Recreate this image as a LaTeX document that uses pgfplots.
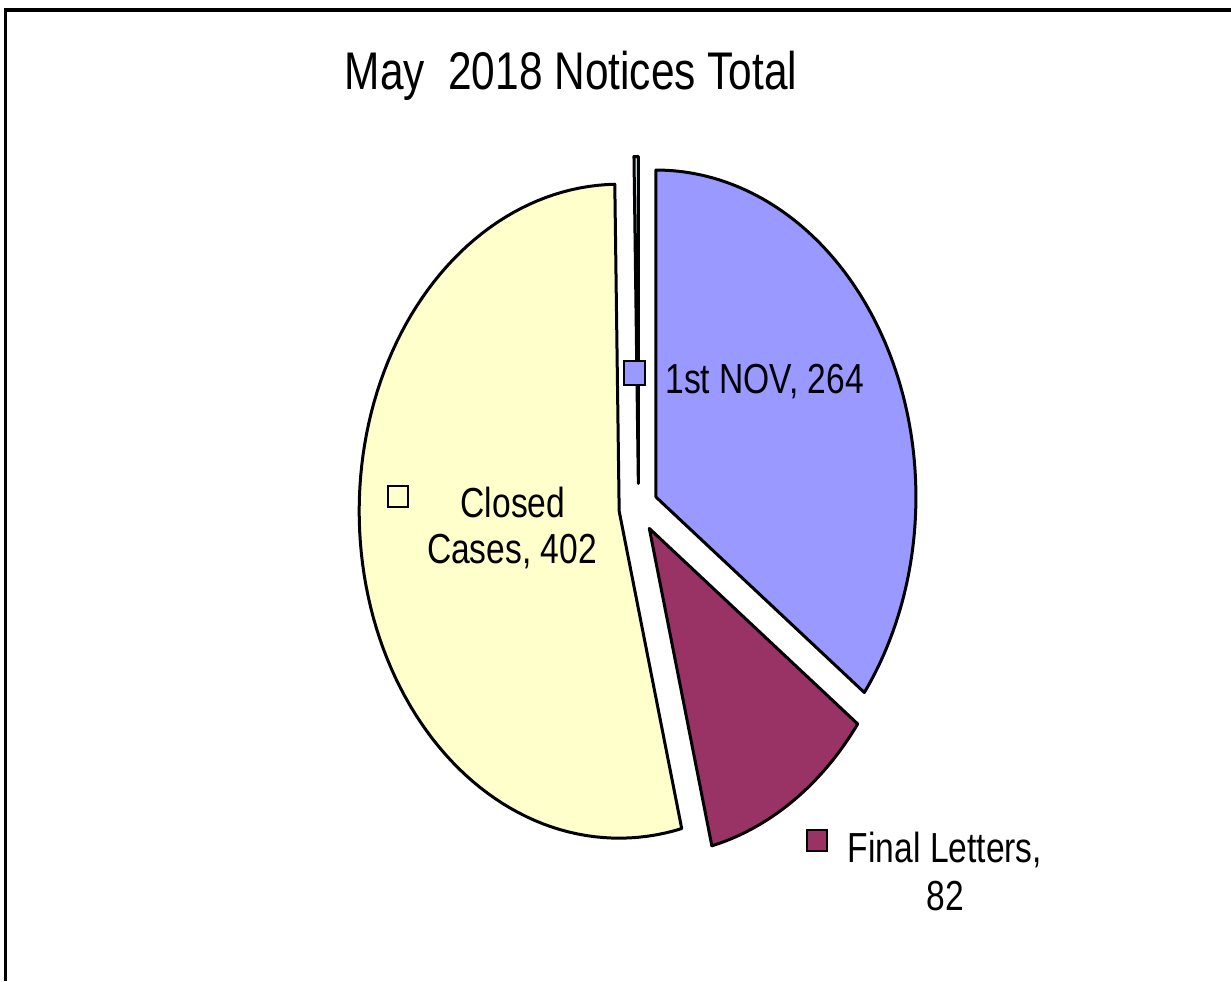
\documentclass[border=0pt]{standalone}
\usepackage{pgfplots}
\pgfplotsset{compat=1.18}
\usepackage{fontspec}
\setmainfont{Liberation Sans}[FakeStretch=0.8]
\definecolor{cNov}{HTML}{9999FF}
\definecolor{cFinal}{HTML}{993366}
\definecolor{cClosed}{HTML}{FFFFCC}
\definecolor{cOther}{HTML}{CCFFFF}
% pie geometry in pixel units
\def\cx{638.5}\def\cy{508}\def\rx{260}\def\ry{327}\def\ex{0.075}
\def\total{750}
\newcommand\pieslice[3]{% #1 cumulative start, #2 value, #3 colour
  \pgfmathsetmacro\deg{360/\total}%
  \pgfmathsetmacro\ta{90-#1*\deg}%
  \pgfmathsetmacro\tb{90-(#1+#2)*\deg}%
  \pgfmathsetmacro\tm{(\ta+\tb)/2}%
  \pgfmathsetmacro\ox{\cx+\ex*\rx*cos(\tm)}%
  \pgfmathsetmacro\oy{\cy-\ex*\ry*sin(\tm)}%
  \addplot[draw=black, line width=1.5pt, fill=#3, line join=round,
    samples at={-1,0,1,...,100,101}, variable=\t]
    ({\ox + (\t>-0.5)*(\t<100.5)*\rx*cos(\ta+(\tb-\ta)*\t/100)},
     {\oy - (\t>-0.5)*(\t<100.5)*\ry*sin(\ta+(\tb-\ta)*\t/100)}) -- cycle;
}
\begin{document}
\begin{tikzpicture}
\begin{axis}[x=0.5pt, y=0.5pt, y dir=reverse,
  xmin=0, xmax=1231, ymin=0, ymax=981,
  hide axis, clip=false]
  % frame
  \draw[line width=2pt] (axis cs:4,10) -- (axis cs:1231,10);
  \draw[line width=1.5pt] (axis cs:5,9) -- (axis cs:5,981);
  % slices: 1st NOV 264, Final Letters 82, Closed Cases 402, other 2
  \pieslice{0}{264}{cNov}
  \pieslice{264}{82}{cFinal}
  \pieslice{346}{402}{cClosed}
  \pieslice{748}{2}{cOther}
  % title
  \node[anchor=base, font=\fontsize{26.5}{31}\selectfont] at (axis cs:571,89) {May~~2018 Notices Total};
  % labels
  \begin{scope}[font=\fontsize{21}{25}\selectfont]
  \node[anchor=base west, inner sep=0pt] at (axis cs:665,393) {1st NOV, 264};
  \node[anchor=base, inner sep=0pt] at (axis cs:513,517) {Closed};
  \node[anchor=base, inner sep=0pt] at (axis cs:512,563) {Cases, 402};
  \node[anchor=base, inner sep=0pt] at (axis cs:945,862) {Final Letters,};
  \node[anchor=base, inner sep=0pt] at (axis cs:945,910) {82};
  \end{scope}
  \draw[line width=1.3pt, fill=cNov] (axis cs:624,361) rectangle (axis cs:645,385);
  \draw[line width=1.3pt, fill=cClosed] (axis cs:388,486) rectangle (axis cs:408,507);
  \draw[line width=1.3pt, fill=cFinal] (axis cs:807,830) rectangle (axis cs:827,851);
  \coordinate (BL) at (axis cs:0,981);
  \coordinate (TR) at (axis cs:1231,0);
\end{axis}
\pgfresetboundingbox
\useasboundingbox (BL) rectangle (TR);
\end{tikzpicture}
\end{document}
